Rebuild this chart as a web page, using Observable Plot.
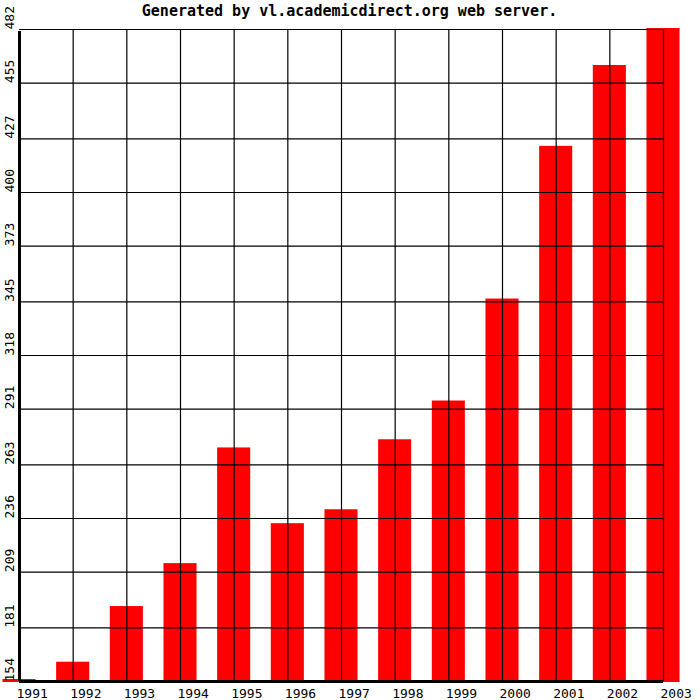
<!DOCTYPE html>
<html>
<head>
<meta charset="utf-8">
<script src="https://cdn.jsdelivr.net/npm/d3@7"></script>
<script src="https://cdn.jsdelivr.net/npm/@observablehq/plot@0.6"></script>
<style>
  html, body { margin: 0; padding: 0; background: #fff; }
  svg { display: block; }
</style>
</head>
<body>
<div id="chart"></div>
<script>
const title = "Generated by vl.academicdirect.org web server.";
const years = [1991, 1992, 1993, 1994, 1995, 1996, 1997, 1998, 1999, 2000, 2001, 2002, 2003];
const values = [155, 163.7, 191.7, 213.3, 271.5, 233.4, 240.4, 275.6, 295.1, 346.4, 423.2, 463.9, 482.5];
const yTicks = [154, 181, 209, 236, 263, 291, 318, 345, 373, 400, 427, 455, 482];

const data = years.map((year, i) => ({year, value: values[i]}));
const yMin = yTicks[0], yMax = yTicks[yTicks.length - 1];
const xMin = years[0], xMax = years[years.length - 1];
const font = "'DejaVu Sans Mono', 'Liberation Mono', monospace";

const chart = Plot.plot({
  width: 700,
  height: 700,
  marginLeft: 19,
  marginRight: 37,
  marginTop: 29,
  marginBottom: 19,
  x: {type: "linear", domain: [xMin, xMax], axis: null},
  y: {type: "linear", domain: [yMin, yMax], axis: null},
  style: {fontFamily: font, background: "#fff", overflow: "visible"},
  marks: [
    Plot.rect(data, {
      x1: d => d.year - 0.5, x2: d => d.year + 0.5,
      y1: yMin, y2: "value",
      fill: "#ff0000", insetLeft: 10.3, insetRight: 10.3, insetBottom: -1
    }),
    Plot.ruleY(yTicks, {x1: xMin, x2: xMax, stroke: "#000", strokeWidth: 1.2}),
    Plot.ruleX(years.slice(1), {y1: yMin, y2: yMax, stroke: "#000", strokeWidth: 1.2}),
    Plot.ruleX([xMin], {y1: yMin, y2: yMax, stroke: "#000", strokeWidth: 3, insetBottom: -2}),
    Plot.ruleY([yMin], {x1: xMin, x2: xMax, stroke: "#000", strokeWidth: 3}),
    Plot.text(yTicks, {
      x: xMin, y: d => d, text: d => String(d),
      rotate: -90, textAnchor: "start", lineAnchor: "bottom",
      dx: -6, fontSize: 13, fill: "#000"
    }),
    Plot.text(years, {
      x: d => d, y: yMin, text: d => String(d),
      textAnchor: "start", lineAnchor: "bottom",
      dx: -3, dy: 16, fontSize: 13, fill: "#000"
    }),
    Plot.text([title], {
      frameAnchor: "top", text: d => d, lineAnchor: "bottom",
      dx: 8, dy: -14, fontSize: 15, fontWeight: "bold", fill: "#000"
    })
  ]
});
document.getElementById("chart").appendChild(chart);
</script>
</body>
</html>
